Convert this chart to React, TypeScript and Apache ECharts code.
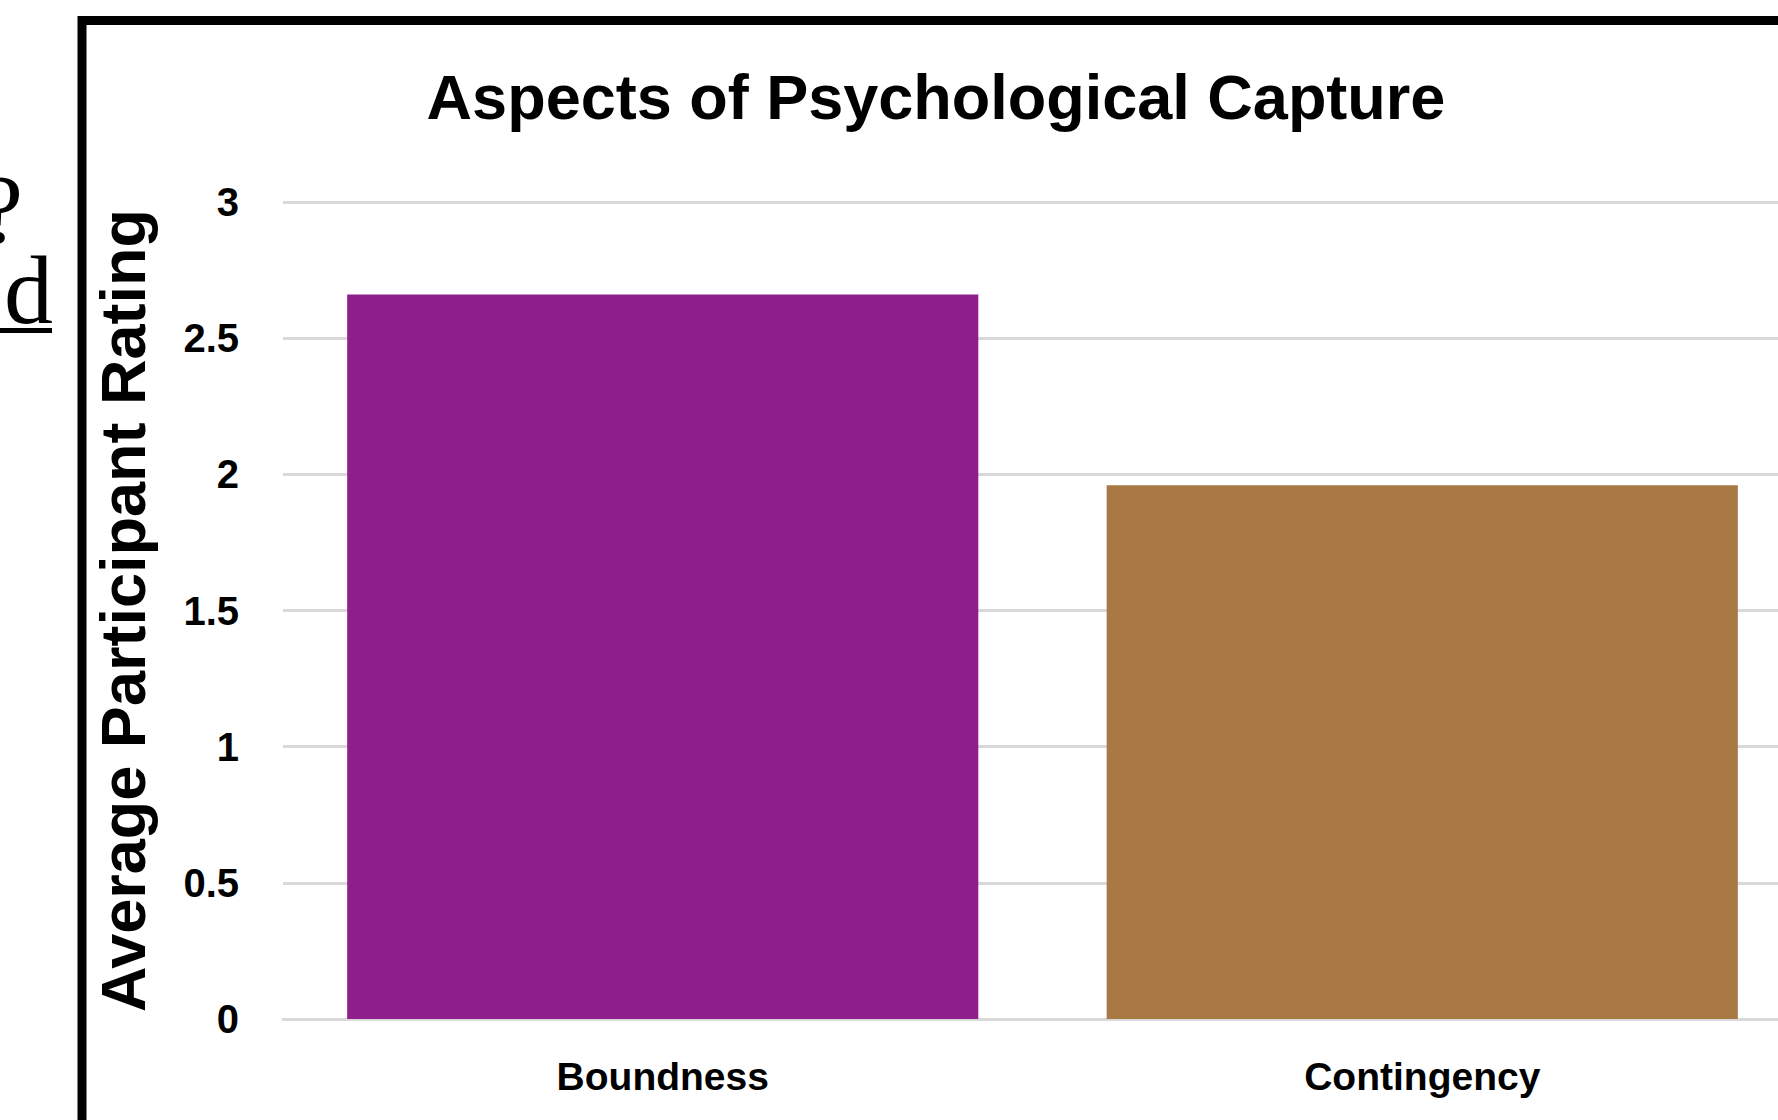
import React, { useEffect, useRef } from "react";
import * as echarts from "echarts";

const categories: string[] = ["Boundness", "Contingency"];
const ratings: number[] = [2.66, 1.96];
const barColors: string[] = ["#8E1E8C", "#A87943"];
const yTicks = { min: 0, max: 3, interval: 0.5 };
const titleText = "Aspects of Psychological Capture";
const yAxisTitle = "Average Participant Rating";
const sideFragments: string[] = ["?", "d"];

export default function App() {
  const ref = useRef<HTMLDivElement>(null);
  useEffect(() => {
    if (!ref.current) return;
    const chart = echarts.init(ref.current, null, { renderer: "svg" });
    const sans = "'Liberation Sans', Arial, sans-serif";
    const serif = "'Liberation Serif', serif";
    chart.setOption({
      animation: false,
      backgroundColor: "#ffffff",
      title: {
        text: titleText,
        left: 931,
        top: 60,
        textAlign: "center",
        textStyle: { fontFamily: sans, fontWeight: "bold", fontSize: 63, color: "#000" },
      },
      grid: { left: 283, right: 0, top: 202, bottom: 101, containLabel: false },
      xAxis: {
        type: "category",
        data: categories,
        axisLine: { show: true, lineStyle: { color: "#d9d9d9", width: 3 } },
        axisTick: { show: false },
        axisLabel: { fontFamily: sans, fontWeight: "bold", fontSize: 39, color: "#000", margin: 38 },
      },
      yAxis: {
        type: "value",
        min: yTicks.min,
        max: yTicks.max,
        interval: yTicks.interval,
        name: yAxisTitle,
        nameLocation: "middle",
        nameGap: 129,
        nameTextStyle: { fontFamily: sans, fontWeight: "bold", fontSize: 63, color: "#000" },
        axisLine: { show: false },
        axisTick: { show: false },
        splitLine: { lineStyle: { color: "#d9d9d9", width: 3 } },
        axisLabel: { fontFamily: sans, fontWeight: "bold", fontSize: 40, color: "#000", margin: 44 },
      },
      series: [
        {
          type: "bar",
          data: ratings.map((v, i) => ({ value: v, itemStyle: { color: barColors[i] } })),
          barCategoryGap: "16.9%",
        },
      ],
      graphic: [
        {
          type: "rect",
          shape: { x: 82, y: 20.5, width: 1800, height: 1200 },
          style: { fill: "none", stroke: "#000", lineWidth: 9 },
          z: 100,
        },
        {
          type: "text",
          x: 53,
          y: 168,
          style: {
            text: `{q|${sideFragments[0]}}{gap|}\n{d|${sideFragments[1]}}`,
            fontFamily: serif,
            fontSize: 98,
            fill: "#000",
            align: "right",
            verticalAlign: "top",
            rich: {
              q: { fontFamily: serif, fontSize: 98, lineHeight: 81, fill: "#000" },
              gap: { width: 30, lineHeight: 81 },
              d: { fontFamily: serif, fontSize: 98, lineHeight: 81, fill: "#000" },
            },
          },
        },
        {
          type: "rect",
          shape: { x: 0, y: 328, width: 52, height: 5 },
          style: { fill: "#000" },
        },
      ],
    });
    return () => chart.dispose();
  }, []);
  return (
    <div style={{ position: "fixed", left: 0, top: 0, width: 1778, height: 1120, overflow: "hidden" }}>
      <div ref={ref} style={{ position: "absolute", left: 0, top: 0, width: 1802, height: 1120 }} />
    </div>
  );
}
